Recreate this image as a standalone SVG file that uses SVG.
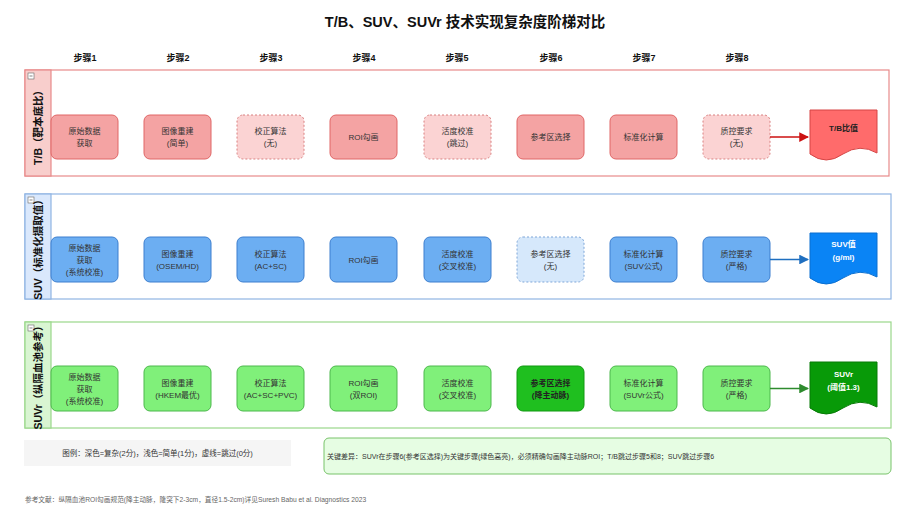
<svg xmlns="http://www.w3.org/2000/svg" width="906" height="531" viewBox="0 0 906 531">
<defs>
<style>
text{font-family:"Liberation Sans","Noto Sans CJK SC",sans-serif;fill:#333;}
.title{font-size:14.5px;font-weight:bold;text-anchor:middle;fill:#111;}
.step{font-size:9px;font-weight:bold;text-anchor:middle;fill:#111;}
.lbl{font-size:8px;text-anchor:middle;}
.bl{font-weight:bold;}
.wt{fill:#fff;font-weight:bold;}
.lanehd{font-size:10.5px;font-weight:bold;text-anchor:middle;fill:#111;}
.n{stroke-width:1;}
.dash{stroke-dasharray:2 2;}
.r1{fill:#f4a3a3;stroke:#e06666;}
.r1l{fill:#fbd3d3;stroke:#d98080;}
.b1{fill:#6caef2;stroke:#3d7fcf;}
.b1l{fill:#d6e8fb;stroke:#7ea6d8;}
.g1{fill:#80f07a;stroke:#4cb84c;}
.g1d{fill:#1fbf1f;stroke:#119911;}
.small{font-size:6.7px;}
</style>
<marker id="arR" viewBox="0 0 10 10" refX="9" refY="5" markerWidth="6.5" markerHeight="6.5" orient="auto"><path d="M0,0 L10,5 L0,10 z" fill="#cc1111"/></marker>
<marker id="arB" viewBox="0 0 10 10" refX="9" refY="5" markerWidth="6.5" markerHeight="6.5" orient="auto"><path d="M0,0 L10,5 L0,10 z" fill="#1f6fc0"/></marker>
<marker id="arG" viewBox="0 0 10 10" refX="9" refY="5" markerWidth="6.5" markerHeight="6.5" orient="auto"><path d="M0,0 L10,5 L0,10 z" fill="#2e8b2e"/></marker>
</defs>
<rect width="906" height="531" fill="#fff"/>
<text class="title" x="465" y="27">T/B、SUV、SUVr 技术实现复杂度阶梯对比</text>
<g id="steps">
<text class="step" x="85" y="61">步骤1</text>
<text class="step" x="178" y="61">步骤2</text>
<text class="step" x="271" y="61">步骤3</text>
<text class="step" x="364" y="61">步骤4</text>
<text class="step" x="457" y="61">步骤5</text>
<text class="step" x="551" y="61">步骤6</text>
<text class="step" x="644" y="61">步骤7</text>
<text class="step" x="737" y="61">步骤8</text>
</g>

<!-- Lane 1 -->
<g id="lane-tb">
<rect x="25" y="70" width="864" height="106" fill="#fff" stroke="#e88a8a" stroke-width="1.2"/>
<rect x="25" y="70" width="26" height="106" fill="#f8cecc" stroke="#e88a8a" stroke-width="1.2"/>
<rect x="28" y="73" width="6" height="6" fill="#fff" stroke="#666" stroke-width="0.6"/><line x1="29.5" y1="76" x2="32.5" y2="76" stroke="#333" stroke-width="0.6"/>
<text class="lanehd" transform="translate(41.5,125) rotate(-90)">T/B（靶本底比）</text>
</g>
<g id="tb1"><rect class="n r1" x="51" y="115" width="67" height="44" rx="6"/><text class="lbl" x="84.5" y="134">原始数据</text><text class="lbl" x="84.5" y="146">获取</text></g>
<g id="tb2"><rect class="n r1" x="144" y="115" width="67" height="44" rx="6"/><text class="lbl" x="177.5" y="134">图像重建</text><text class="lbl" x="177.5" y="146">(简单)</text></g>
<g id="tb3"><rect class="n r1l dash" x="237" y="115" width="67" height="44" rx="6"/><text class="lbl" x="270.5" y="134">校正算法</text><text class="lbl" x="270.5" y="146">(无)</text></g>
<g id="tb4"><rect class="n r1" x="330" y="115" width="67" height="44" rx="6"/><text class="lbl" x="363.5" y="140">ROI勾画</text></g>
<g id="tb5"><rect class="n r1l dash" x="424" y="115" width="67" height="44" rx="6"/><text class="lbl" x="457.5" y="134">活度校准</text><text class="lbl" x="457.5" y="146">(跳过)</text></g>
<g id="tb6"><rect class="n r1" x="517" y="115" width="67" height="44" rx="6"/><text class="lbl" x="550.5" y="140">参考区选择</text></g>
<g id="tb7"><rect class="n r1" x="610" y="115" width="67" height="44" rx="6"/><text class="lbl" x="643.5" y="140">标准化计算</text></g>
<g id="tb8"><rect class="n r1l dash" x="703" y="115" width="67" height="44" rx="6"/><text class="lbl" x="736.5" y="134">质控要求</text><text class="lbl" x="736.5" y="146">(无)</text></g>
<g id="tb-out"><path d="M810,110 H877 V153 Q860,143 843,154 Q826,166 810,154 Z" fill="#ff6b6b" stroke="#d64545" stroke-width="1"/><text class="lbl bl" x="843.5" y="131" style="fill:#222">T/B比值</text></g>

<!-- Lane 2 -->
<g id="lane-suv">
<rect x="25" y="194" width="866" height="105" fill="#fff" stroke="#8fb4e3" stroke-width="1.2"/>
<rect x="25" y="194" width="26" height="105" fill="#dae8fc" stroke="#8fb4e3" stroke-width="1.2"/>
<rect x="28" y="197" width="6" height="6" fill="#fff" stroke="#666" stroke-width="0.6"/><line x1="29.5" y1="200" x2="32.5" y2="200" stroke="#333" stroke-width="0.6"/>
<text class="lanehd" transform="translate(41.5,247) rotate(-90)">SUV（标准化摄取值）</text>
</g>
<g id="suv1"><rect class="n b1" x="51" y="237" width="67" height="45" rx="6"/><text class="lbl" x="84.5" y="251">原始数据</text><text class="lbl" x="84.5" y="263">获取</text><text class="lbl" x="84.5" y="275">(系统校准)</text></g>
<g id="suv2"><rect class="n b1" x="144" y="237" width="67" height="45" rx="6"/><text class="lbl" x="177.5" y="257">图像重建</text><text class="lbl" x="177.5" y="269">(OSEM/HD)</text></g>
<g id="suv3"><rect class="n b1" x="237" y="237" width="67" height="45" rx="6"/><text class="lbl" x="270.5" y="257">校正算法</text><text class="lbl" x="270.5" y="269">(AC+SC)</text></g>
<g id="suv4"><rect class="n b1" x="330" y="237" width="67" height="45" rx="6"/><text class="lbl" x="363.5" y="263">ROI勾画</text></g>
<g id="suv5"><rect class="n b1" x="424" y="237" width="67" height="45" rx="6"/><text class="lbl" x="457.5" y="257">活度校准</text><text class="lbl" x="457.5" y="269">(交叉校准)</text></g>
<g id="suv6"><rect class="n b1l dash" x="517" y="237" width="67" height="45" rx="6"/><text class="lbl" x="550.5" y="257">参考区选择</text><text class="lbl" x="550.5" y="269">(无)</text></g>
<g id="suv7"><rect class="n b1" x="610" y="237" width="67" height="45" rx="6"/><text class="lbl" x="643.5" y="257">标准化计算</text><text class="lbl" x="643.5" y="269">(SUV公式)</text></g>
<g id="suv8"><rect class="n b1" x="703" y="237" width="67" height="45" rx="6"/><text class="lbl" x="736.5" y="257">质控要求</text><text class="lbl" x="736.5" y="269">(严格)</text></g>
<g id="suv-out"><path d="M810,233 H877 V277 Q860,267 843,278 Q826,290 810,278 Z" fill="#0a84f5" stroke="#0a6fd0" stroke-width="1"/><text class="lbl wt" x="843.5" y="247">SUV值</text><text class="lbl wt" x="843.5" y="260">(g/ml)</text></g>

<!-- Lane 3 -->
<g id="lane-suvr">
<rect x="25" y="322" width="866" height="106" fill="#fff" stroke="#9ad88a" stroke-width="1.2"/>
<rect x="25" y="322" width="26" height="106" fill="#d9f5d2" stroke="#9ad88a" stroke-width="1.2"/>
<rect x="28" y="325" width="6" height="6" fill="#fff" stroke="#666" stroke-width="0.6"/><line x1="29.5" y1="328" x2="32.5" y2="328" stroke="#333" stroke-width="0.6"/>
<text class="lanehd" transform="translate(41.5,375) rotate(-90)">SUVr（纵隔血池参考）</text>
</g>
<g id="suvr1"><rect class="n g1" x="51" y="366" width="67" height="45" rx="6"/><text class="lbl" x="84.5" y="380">原始数据</text><text class="lbl" x="84.5" y="392">获取</text><text class="lbl" x="84.5" y="404">(系统校准)</text></g>
<g id="suvr2"><rect class="n g1" x="144" y="366" width="67" height="45" rx="6"/><text class="lbl" x="177.5" y="386">图像重建</text><text class="lbl" x="177.5" y="398">(HKEM最优)</text></g>
<g id="suvr3"><rect class="n g1" x="237" y="366" width="67" height="45" rx="6"/><text class="lbl" x="270.5" y="386">校正算法</text><text class="lbl" x="270.5" y="398">(AC+SC+PVC)</text></g>
<g id="suvr4"><rect class="n g1" x="330" y="366" width="67" height="45" rx="6"/><text class="lbl" x="363.5" y="386">ROI勾画</text><text class="lbl" x="363.5" y="398">(双ROI)</text></g>
<g id="suvr5"><rect class="n g1" x="424" y="366" width="67" height="45" rx="6"/><text class="lbl" x="457.5" y="386">活度校准</text><text class="lbl" x="457.5" y="398">(交叉校准)</text></g>
<g id="suvr6"><rect class="n g1d" x="517" y="366" width="67" height="45" rx="6"/><text class="lbl bl" x="550.5" y="386" style="fill:#222">参考区选择</text><text class="lbl bl" x="550.5" y="398" style="fill:#222">(降主动脉)</text></g>
<g id="suvr7"><rect class="n g1" x="610" y="366" width="67" height="45" rx="6"/><text class="lbl" x="643.5" y="386">标准化计算</text><text class="lbl" x="643.5" y="398">(SUVr公式)</text></g>
<g id="suvr8"><rect class="n g1" x="703" y="366" width="67" height="45" rx="6"/><text class="lbl" x="736.5" y="386">质控要求</text><text class="lbl" x="736.5" y="398">(严格)</text></g>
<g id="suvr-out"><path d="M810,362 H877 V407 Q860,397 843,408 Q826,420 810,408 Z" fill="#089a08" stroke="#067a06" stroke-width="1"/><text class="lbl wt" x="843.5" y="377">SUVr</text><text class="lbl wt" x="843.5" y="390">(阈值1.3)</text></g>

<g id="connectors">
<line x1="770" y1="137" x2="808" y2="137" stroke="#cc1111" stroke-width="1.5" marker-end="url(#arR)"/>
<line x1="770" y1="259.5" x2="808" y2="259.5" stroke="#1f6fc0" stroke-width="1.5" marker-end="url(#arB)"/>
<line x1="770" y1="388.5" x2="808" y2="388.5" stroke="#2e8b2e" stroke-width="1.5" marker-end="url(#arG)"/>
</g>

<g id="legend">
<rect x="24" y="440" width="267" height="26" fill="#f5f5f5" stroke="none"/>
<text x="157.5" y="456" style="font-size:7.5px;text-anchor:middle;fill:#333">图例：深色=复杂(2分)，浅色=简单(1分)，虚线=跳过(0分)</text>
</g>
<g id="key">
<rect x="324" y="438" width="567" height="36" rx="5" fill="#e6fde3" stroke="#78c36a" stroke-width="1"/>
<text x="327" y="458.5" style="font-size:7px">关键差异：SUVr在步骤6(参考区选择)为关键步骤(绿色高亮)，必须精确勾画降主动脉ROI；T/B跳过步骤5和8；SUV跳过步骤6</text>
</g>
<text x="25" y="502" class="small" style="fill:#666">参考文献：纵隔血池ROI勾画规范(降主动脉，隆突下2-3cm，直径1.5-2cm)详见Suresh Babu et al. Diagnostics 2023</text>
</svg>
